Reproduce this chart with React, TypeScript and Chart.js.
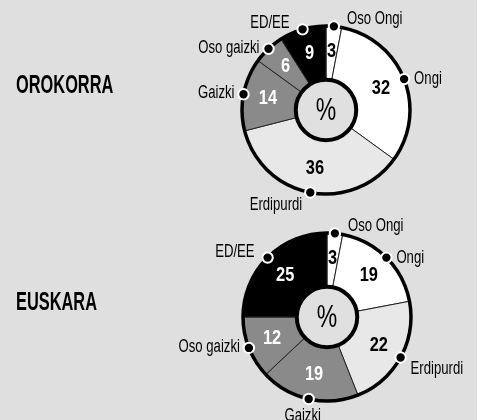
import React, { useEffect, useRef } from 'react';
import { Chart, registerables } from 'chart.js';

Chart.register(...registerables);

const CATEGORIES = ['Oso Ongi', 'Ongi', 'Erdipurdi', 'Gaizki', 'Oso gaizki', 'ED/EE'];
const OROKORRA_VALUES = [3, 32, 36, 14, 6, 9];
const EUSKARA_VALUES = [3, 19, 22, 19, 12, 25];
const TITLE_TOP = 'OROKORRA';
const TITLE_BOTTOM = 'EUSKARA';
const CENTER_TEXT = '%';

const SLICE_COLORS = ['#ffffff', '#ffffff', '#e8e8e8', '#8a8a8a', '#8a8a8a', '#000000'];
const VALUE_COLORS = ['#000', '#000', '#000', '#fff', '#fff', '#fff'];
const TOP_ANCHORS = ['ne', 'e', 'sw', 'w', 'w', 'nw'];
const BOTTOM_ANCHORS = ['ne', 'e', 'se', 's', 'w', 'nw'];

const SANS = '"Liberation Sans", Arial, sans-serif';

function drawText(ctx: CanvasRenderingContext2D, text: string, x: number, y: number, align: CanvasTextAlign, scale: number) {
  ctx.save();
  ctx.translate(x, y);
  ctx.scale(scale, 1);
  ctx.textAlign = align;
  ctx.textBaseline = 'middle';
  ctx.fillText(text, 0, 0);
  ctx.restore();
}

const ANCHOR_OFFSETS: Record<string, [CanvasTextAlign, number, number]> = {
  ne: ['left', 13, -7],
  e: ['left', 10, 0],
  se: ['left', 10, 12],
  s: ['center', -6, 17],
  sw: ['right', -8, 13],
  w: ['right', -9, -1],
  nw: ['right', -13, -6],
};

const donutDecor = {
  id: 'donutDecor',
  afterDatasetsDraw(chart: any, _args: any, opts: any) {
    const ctx: CanvasRenderingContext2D = chart.ctx;
    const meta = chart.getDatasetMeta(0);
    const arcs = meta.data;
    if (!arcs.length) return;
    const first = arcs[0].getProps(['x', 'y', 'innerRadius', 'outerRadius'], true);
    const cx = first.x, cy = first.y, R = first.outerRadius, r = first.innerRadius;
    ctx.save();
    // title
    ctx.fillStyle = '#000';
    ctx.font = `bold 25px ${SANS}`;
    drawText(ctx, opts.title, 16, opts.titleY, 'left', 0.655);
    // outer ring
    ctx.beginPath();
    ctx.arc(cx, cy, R, 0, Math.PI * 2);
    ctx.lineWidth = 3.5;
    ctx.strokeStyle = '#000';
    ctx.stroke();
    // inner circle
    ctx.beginPath();
    ctx.arc(cx, cy, r, 0, Math.PI * 2);
    ctx.fillStyle = '#e0e0e0';
    ctx.fill();
    ctx.lineWidth = 4;
    ctx.strokeStyle = '#000';
    ctx.stroke();
    ctx.fillStyle = '#000';
    ctx.font = `32px ${SANS}`;
    drawText(ctx, CENTER_TEXT, cx, cy + 1, 'center', 0.72);

    const values = chart.data.datasets[0].data;
    const labels = chart.data.labels;
    arcs.forEach((arc: any, i: number) => {
      const p = arc.getProps(['startAngle', 'endAngle'], true);
      const a = (p.startAngle + p.endAngle) / 2;
      const vr = (R + r) / 2 + 2;
      ctx.fillStyle = opts.valueColors[i];
      ctx.font = `bold 20px ${SANS}`;
      drawText(ctx, String(values[i]), cx + Math.cos(a) * vr, cy + Math.sin(a) * vr, 'center', 0.82);
      const dx = cx + Math.cos(a) * R;
      const dy = cy + Math.sin(a) * R;
      ctx.beginPath();
      ctx.arc(dx, dy, 5.2, 0, Math.PI * 2);
      ctx.fillStyle = '#000';
      ctx.fill();
      ctx.lineWidth = 2;
      ctx.strokeStyle = '#fff';
      ctx.stroke();
      const [align, ox, oy] = ANCHOR_OFFSETS[opts.anchors[i]];
      ctx.fillStyle = '#000';
      ctx.font = `18px ${SANS}`;
      drawText(ctx, labels[i], dx + ox, dy + oy, align, 0.73);
    });
    ctx.restore();
  },
};

function Donut({ values, title, titleY, anchors, padLeft, padTop, padBottom }: any) {
  const ref = useRef<HTMLCanvasElement>(null);
  useEffect(() => {
    if (!ref.current) return;
    const chart = new Chart(ref.current, {
      type: 'doughnut',
      data: {
        labels: CATEGORIES,
        datasets: [
          {
            data: values,
            backgroundColor: SLICE_COLORS,
            borderColor: '#222',
            borderWidth: 1,
          },
        ],
      },
      options: {
        responsive: false,
        animation: false,
        radius: 84,
        cutout: '36%',
        layout: { padding: { left: padLeft, right: 0, top: padTop, bottom: padBottom } },
        plugins: {
          legend: { display: false },
          tooltip: { enabled: false },
          donutDecor: { title, titleY, anchors, valueColors: VALUE_COLORS },
        } as any,
      },
      plugins: [donutDecor],
    });
    return () => chart.destroy();
  }, []);
  return (
    <canvas
      ref={ref}
      width={481}
      height={420}
      style={{ position: 'absolute', left: 0, top: 0, width: 481, height: 420 }}
    />
  );
}

export default function App() {
  return (
    <div style={{ position: 'absolute', left: 0, top: 0, width: 481, height: 420, background: '#dfdfdf', overflow: 'hidden' }}>
      <div style={{ position: 'absolute', left: 477, top: 0, width: 4, height: 420, background: '#ffffff' }} />
      <Donut values={OROKORRA_VALUES} title={TITLE_TOP} titleY={86} anchors={TOP_ANCHORS} padLeft={171} padTop={10} padBottom={210} />
      <Donut values={EUSKARA_VALUES} title={TITLE_BOTTOM} titleY={303} anchors={BOTTOM_ANCHORS} padLeft={173} padTop={214} padBottom={0} />
    </div>
  );
}
